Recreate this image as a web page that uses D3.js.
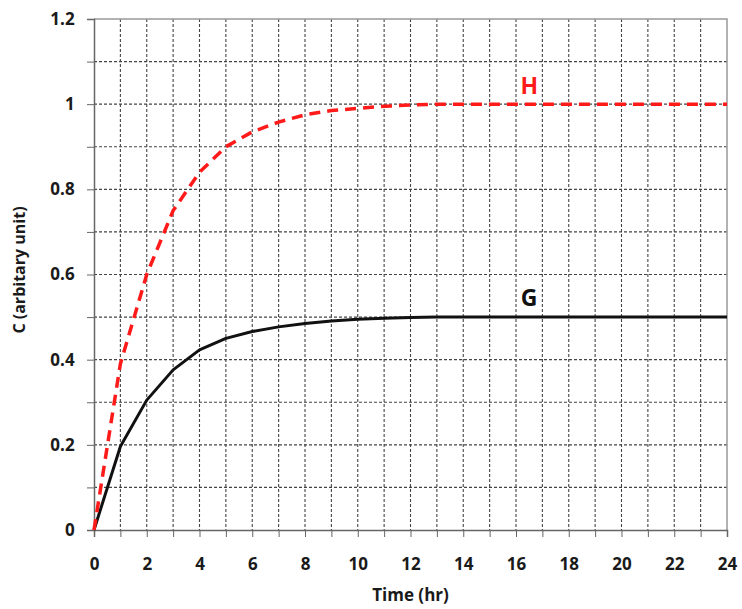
<!DOCTYPE html>
<html>
<head>
<meta charset="utf-8">
<script src="https://cdn.jsdelivr.net/npm/d3@7"></script>
<style>
  body { margin: 0; background: #fff; }
  text { font-family: "Open Sans", sans-serif; font-weight: bold; }
</style>
</head>
<body>
<svg id="chart" width="742" height="609"></svg>
<script>
// hours 0..24
const hours = d3.range(0, 25);
const seriesH = [0, 0.39, 0.6, 0.75, 0.84, 0.9, 0.935, 0.958, 0.975, 0.985, 0.99, 0.995, 0.998,
  1, 1, 1, 1, 1, 1, 1, 1, 1, 1, 1, 1];
const seriesG = [0, 0.196, 0.305, 0.376, 0.423, 0.45, 0.466, 0.477, 0.485, 0.491, 0.495, 0.497, 0.499,
  0.5, 0.5, 0.5, 0.5, 0.5, 0.5, 0.5, 0.5, 0.5, 0.5, 0.5, 0.5];
const xTicks = d3.range(0, 25, 2);
const yTicks = [0, 0.2, 0.4, 0.6, 0.8, 1, 1.2];

const svg = d3.select('#chart');
const x = d3.scaleLinear().domain([0, 24]).range([94, 727]);
const y = d3.scaleLinear().domain([0, 1.2]).range([530, 19]);

// grid
const grid = svg.append('g');
grid.selectAll('line.v').data(d3.range(1, 24)).join('line')
  .attr('x1', d => x(d)).attr('x2', d => x(d))
  .attr('y1', y(1.2)).attr('y2', y(0))
  .attr('stroke', '#444').attr('stroke-width', 1.1).attr('stroke-dasharray', '3,2');
grid.selectAll('line.h').data(d3.range(1, 12).map(d => d / 10)).join('line')
  .attr('x1', x(0)).attr('x2', x(24))
  .attr('y1', d => y(d)).attr('y2', d => y(d))
  .attr('stroke', '#444').attr('stroke-width', 1.1).attr('stroke-dasharray', '3,2');

// border top/right
svg.append('path')
  .attr('d', `M${x(0)},${y(1.2)}H${x(24)}V${y(0)}`)
  .attr('fill', 'none').attr('stroke', '#999').attr('stroke-width', 1.5);

// axes
const xAxis = svg.append('g').attr('transform', `translate(0,${y(0)})`)
  .call(d3.axisBottom(x).tickValues(d3.range(0, 25)).tickSize(7)
    .tickFormat(d => xTicks.includes(d) ? d : ''));
xAxis.select('.domain').attr('stroke', '#666').attr('stroke-width', 1.5);
xAxis.selectAll('.tick line').attr('stroke', '#666');
xAxis.selectAll('text').attr('font-size', 17).attr('fill', '#1a1a1a').attr('dy', '1.75em');

const yAxis = svg.append('g').attr('transform', `translate(${x(0)},0)`)
  .call(d3.axisLeft(y).tickValues(d3.range(0, 13).map(d => d / 10)).tickSize(7)
    .tickFormat(d => yTicks.some(t => Math.abs(t - d) < 1e-9) ? d3.format('')(+d.toFixed(1)) : ''));
yAxis.select('.domain').attr('stroke', '#666').attr('stroke-width', 1.5);
yAxis.selectAll('.tick line').attr('stroke', '#666');
yAxis.selectAll('text').attr('font-size', 17).attr('fill', '#1a1a1a').attr('dx', '-0.55em');

// lines
const line = d3.line().x((d, i) => x(hours[i])).y(d => y(d));
svg.append('path').datum(seriesG)
  .attr('d', line).attr('fill', 'none')
  .attr('stroke', '#111').attr('stroke-width', 3).attr('stroke-linejoin', 'round');
svg.append('path').datum(seriesH)
  .attr('d', line).attr('fill', 'none')
  .attr('stroke', '#ff1a1a').attr('stroke-width', 3.5).attr('stroke-dasharray', '11,7');

// series labels
svg.append('text').attr('x', x(16.5)).attr('y', y(1.023)).attr('text-anchor', 'middle')
  .attr('font-size', 23).attr('fill', '#ff1a1a').text('H');
svg.append('text').attr('x', x(16.5)).attr('y', y(0.525)).attr('text-anchor', 'middle')
  .attr('font-size', 23).attr('fill', '#111').text('G');

// axis titles
svg.append('text').attr('x', x(12)).attr('y', 601).attr('text-anchor', 'middle')
  .attr('font-size', 17).attr('fill', '#1a1a1a').text('Time (hr)');
svg.append('text').attr('transform', `translate(25,270) rotate(-90)`)
  .attr('text-anchor', 'middle').attr('font-size', 16).attr('fill', '#1a1a1a')
  .text('C (arbitary unit)');
</script>
</body>
</html>
